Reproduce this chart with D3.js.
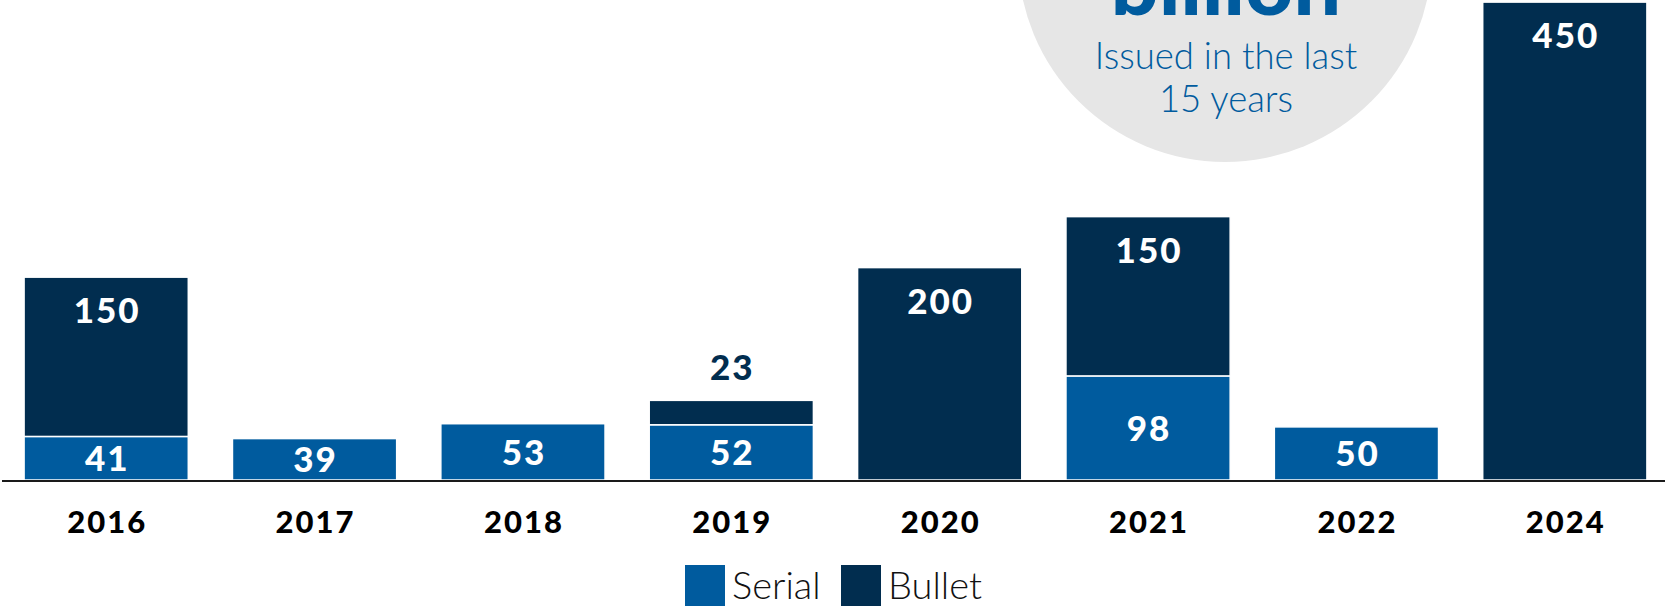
<!DOCTYPE html>
<html>
<head>
<meta charset="utf-8">
<script src="https://cdn.jsdelivr.net/npm/d3@7/dist/d3.min.js"></script>
<style>
  html, body { margin: 0; padding: 0; background: #fff; }
  svg { display: block; }
</style>
</head>
<body>
<svg id="chart" width="1665" height="606"></svg>
<script>
const years = ["2016", "2017", "2018", "2019", "2020", "2021", "2022", "2024"];
const serial = [41, 39, 53, 52, 0, 98, 50, 0];
const bullet = [150, 0, 0, 23, 200, 150, 0, 450];
const seriesNames = ["Serial", "Bullet"];
const seriesColors = ["#005b9e", "#012d4f"];
const calloutLines = ["Issued in the last", "15 years"];
const calloutHead = "billion";

const svg = d3.select("#chart");
const W = 1665, H = 606;
const baseY = 480;

const x = d3.scaleBand().domain(years).range([2, 1669]).paddingInner(0.212).paddingOuter(0.106);
const y = d3.scaleLinear().domain([0, 450]).range([baseY, baseY - 450 * 1.062]);

const rows = years.map((yr, i) => ({ year: yr, Serial: serial[i], Bullet: bullet[i] }));
const stacked = d3.stack().keys(seriesNames)(rows);

const fontNum = "Lato, 'Noto Sans', 'DejaVu Sans', sans-serif";

// Callout circle
const circ = svg.append("g");
circ.append("circle").attr("cx", 1225).attr("cy", -45).attr("r", 207).attr("fill", "#e6e6e6");
circ.append("text").attr("x", 1226).attr("y", 15).attr("text-anchor", "middle")
  .attr("font-family", fontNum).attr("font-weight", 900).attr("font-size", 84)
  .attr("fill", "#005b9e").text(calloutHead);
circ.selectAll("text.sub").data(calloutLines).join("text").attr("class", "sub")
  .attr("x", 1226).attr("y", (d, i) => 69 + i * 43).attr("text-anchor", "middle")
  .attr("font-family", fontNum).attr("font-weight", 300).attr("font-size", 36.5)
  .attr("fill", "#005b9e").text(d => d);

// Bars
const g = svg.append("g");
stacked.forEach((s, si) => {
  g.selectAll(null).data(s.filter(d => d[1] - d[0] > 0)).join("rect")
    .attr("x", d => x(d.data.year))
    .attr("width", x.bandwidth())
    .attr("y", d => y(d[1]))
    .attr("height", d => y(d[0]) - y(d[1]))
    .attr("fill", seriesColors[si])
    .attr("stroke", "#fff").attr("stroke-width", 1.5);
});

// Axis
const axis = svg.append("g").attr("transform", `translate(0,${baseY + 1})`)
  .call(d3.axisBottom(x).tickSize(0).tickPadding(0));
axis.select(".domain").attr("d", `M2,0H${W}`).attr("stroke", "#1a1a1a").attr("stroke-width", 2);
axis.selectAll(".tick text").attr("dy", 0).attr("y", 52).attr("x", 1)
  .attr("font-family", fontNum).attr("font-weight", 900).attr("font-size", 31)
  .attr("letter-spacing", 2).attr("fill", "#000");

// Labels
const lab = svg.append("g").attr("font-family", fontNum).attr("font-weight", 900)
  .attr("font-size", 35).attr("letter-spacing", 2).attr("text-anchor", "middle");
// serial
lab.selectAll(null).data(stacked[0].filter(d => d[1] - d[0] > 0)).join("text")
  .attr("x", d => x(d.data.year) + x.bandwidth() / 2 + 1)
  .attr("y", d => (y(d[0]) + y(d[1])) / 2 + 13)
  .attr("fill", "#fff").text(d => d[1] - d[0]);
// bullet
lab.selectAll(null).data(stacked[1].filter(d => d[1] - d[0] > 0)).join("text")
  .attr("x", d => x(d.data.year) + x.bandwidth() / 2 + 1)
  .attr("y", d => (y(d[0]) - y(d[1]) > 50) ? y(d[1]) + 46 : y(d[1]) - 20)
  .attr("fill", d => (y(d[0]) - y(d[1]) > 50) ? "#fff" : seriesColors[1])
  .text(d => d[1] - d[0]);

// Legend
const leg = svg.append("g");
const legX = [685, 841];
seriesNames.forEach((n, i) => {
  leg.append("rect").attr("x", legX[i]).attr("y", 565).attr("width", 40).attr("height", 45)
    .attr("fill", seriesColors[i]);
  leg.append("text").attr("x", legX[i] + 47).attr("y", 599)
    .attr("font-family", fontNum).attr("font-weight", 300).attr("font-size", 38)
    .attr("fill", "#111").text(n);
});
</script>
</body>
</html>
